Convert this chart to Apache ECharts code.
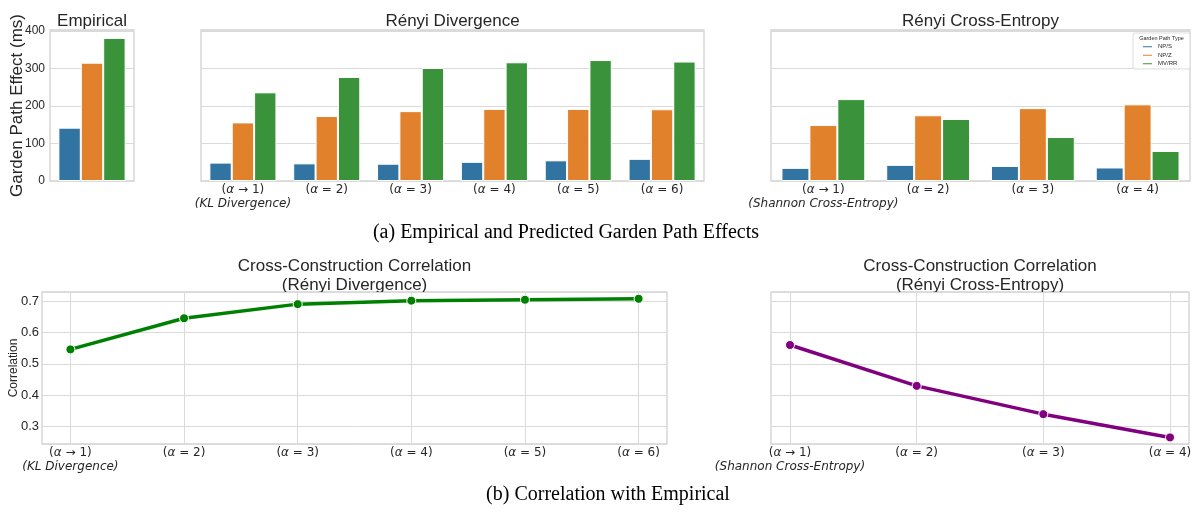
<!DOCTYPE html>
<html><head><meta charset="utf-8">
<script src="https://cdn.jsdelivr.net/npm/echarts@6/dist/echarts.min.js"></script>
<style>html,body{margin:0;padding:0;background:#fff}#c{width:1195px;height:516px}</style>
</head><body><div id="c"></div>
<script>
// ---- data ----
const seriesNames = ['NP/S', 'NP/Z', 'MV/RR'];
const empiricalValues = [142, 315, 381];
const divergenceCategories = ['(α → 1)', '(α = 2)', '(α = 3)', '(α = 4)', '(α = 5)', '(α = 6)'];
const divergenceNPS = [49, 47, 46, 51, 55, 59];
const divergenceNPZ = [156, 173, 186, 192, 192, 191];
const divergenceMVRR = [236, 277, 301, 316, 322, 318];
const crossEntropyCategories = ['(α → 1)', '(α = 2)', '(α = 3)', '(α = 4)'];
const crossEntropyNPS = [35, 43, 40, 36];
const crossEntropyNPZ = [149, 175, 194, 204];
const crossEntropyMVRR = [218, 165, 117, 80];
const divergenceCorrelation = [0.546, 0.645, 0.690, 0.701, 0.704, 0.707];
const crossEntropyCorrelation = [0.560, 0.430, 0.340, 0.266];
const firstLabelNotes = ['(KL Divergence)', '(Shannon Cross-Entropy)'];
const effectTicks = [0, 100, 200, 300, 400];
const correlationTicks = [0.3, 0.4, 0.5, 0.6, 0.7];

const barColors = ['#3274a1', '#e1812c', '#3a923a'];
const TXT = '#262626';
const SANS = '"Liberation Sans", Arial, sans-serif';
const MATH = '"DejaVu Sans", sans-serif';
const GRIDC = '#dadada';
const FRAMEC = '#d2d2d2';

const chart = echarts.init(document.getElementById('c'), null, {renderer: 'canvas'});

function mathLabel(note) {
  return function (v, i) {
    let s = v.replace('α', '{i|α}');
    if (i === 0) s += '\n{n|' + note + '}';
    return s;
  };
}
const mathRich = {
  i: {fontFamily: MATH, fontStyle: 'italic', fontSize: 12, color: TXT, lineHeight: 14},
  n: {fontFamily: MATH, fontStyle: 'italic', fontSize: 12, color: TXT, lineHeight: 14}
};
function catAxis(grid, data, note, opts) {
  return Object.assign({
    type: 'category', gridIndex: grid, data: data,
    axisLine: {show: false}, axisTick: {show: false},
    axisLabel: {fontFamily: MATH, fontSize: 12, color: TXT, lineHeight: 14, margin: 2,
      interval: 0, formatter: mathLabel(note), rich: mathRich},
    splitLine: {show: false}
  }, opts || {});
}
function effectAxis(grid, showLabels) {
  return {
    type: 'value', gridIndex: grid, min: 0, max: 402, interval: 100,
    axisLine: {show: false}, axisTick: {show: false},
    axisLabel: {show: showLabels, fontFamily: SANS, fontSize: 12, color: TXT, margin: 5,
      formatter: v => (effectTicks.indexOf(v) >= 0 ? String(v) : '')},
    splitLine: {show: true, lineStyle: {color: GRIDC, width: 1}}
  };
}
function corrAxis(grid, showLabels, hidden) {
  return {
    type: 'value', gridIndex: grid, min: 0.2451, max: 0.7286, show: !hidden,
    axisLine: {show: false}, axisTick: {show: false},
    axisLabel: {show: showLabels, fontFamily: SANS, fontSize: 13, color: TXT, margin: 3,
      formatter: v => {
        const hit = correlationTicks.find(t => Math.abs(t - v) < 1e-6);
        return hit !== undefined ? hit.toFixed(1) : '';
      }},
    splitLine: {show: true, lineStyle: {color: GRIDC, width: 1}}
  };
}
const frame = {show: true, borderColor: FRAMEC, borderWidth: 1.3, backgroundColor: 'transparent'};

function barSeries(name, xi, data, k) {
  return {
    type: 'bar', name: name, xAxisIndex: xi, yAxisIndex: xi, data: data,
    barGap: '0%', barCategoryGap: '20%',
    itemStyle: {color: barColors[k], borderColor: '#ffffff', borderWidth: 1},
    emphasis: {disabled: true}, animation: false
  };
}

const option = {
  animation: false,
  backgroundColor: '#ffffff',
  grid: [
    Object.assign({left: 50, top: 30, width: 84, height: 151}, frame),
    Object.assign({left: 201, top: 30, width: 503, height: 151}, frame),
    Object.assign({left: 771, top: 30, width: 419, height: 151}, frame),
    Object.assign({left: 42, top: 292, width: 625, height: 152}, frame),
    {left: 70.4, top: 292, width: 568.2, height: 152, show: false},
    Object.assign({left: 771, top: 292, width: 418, height: 152}, frame),
    {left: 790, top: 292, width: 380, height: 152, show: false}
  ],
  xAxis: [
    catAxis(0, [''], '', {axisLabel: {show: false}}),
    catAxis(1, divergenceCategories, firstLabelNotes[0]),
    catAxis(2, crossEntropyCategories, firstLabelNotes[1]),
    {type: 'value', gridIndex: 3, show: false, min: 0, max: 1},
    catAxis(4, divergenceCategories, firstLabelNotes[0],
      {boundaryGap: false, splitLine: {show: true, lineStyle: {color: GRIDC, width: 1}}}),
    {type: 'value', gridIndex: 5, show: false, min: 0, max: 1},
    catAxis(6, crossEntropyCategories, firstLabelNotes[1],
      {boundaryGap: false, splitLine: {show: true, lineStyle: {color: GRIDC, width: 1}}})
  ],
  yAxis: [
    effectAxis(0, true),
    effectAxis(1, false),
    effectAxis(2, false),
    corrAxis(3, true, false),
    corrAxis(4, false, true),
    corrAxis(5, false, false),
    corrAxis(6, false, true)
  ],
  legend: {
    data: seriesNames, orient: 'vertical', left: 1141, top: 43.4, z: 30, zlevel: 0,
    itemWidth: 11, itemHeight: 3, itemGap: 2, icon: 'rect', selectedMode: false,
    padding: 0,
    textStyle: {fontFamily: SANS, fontSize: 6, color: TXT, lineHeight: 6.5}
  },
  series: [
    barSeries(seriesNames[0], 0, [empiricalValues[0]], 0),
    barSeries(seriesNames[1], 0, [empiricalValues[1]], 1),
    barSeries(seriesNames[2], 0, [empiricalValues[2]], 2),
    barSeries(seriesNames[0], 1, divergenceNPS, 0),
    barSeries(seriesNames[1], 1, divergenceNPZ, 1),
    barSeries(seriesNames[2], 1, divergenceMVRR, 2),
    barSeries(seriesNames[0], 2, crossEntropyNPS, 0),
    barSeries(seriesNames[1], 2, crossEntropyNPZ, 1),
    barSeries(seriesNames[2], 2, crossEntropyMVRR, 2),
    {
      type: 'line', name: 'Rényi Divergence correlation', xAxisIndex: 4, yAxisIndex: 4,
      data: divergenceCorrelation, symbol: 'circle', symbolSize: 9,
      lineStyle: {color: '#008000', width: 3.5},
      itemStyle: {color: '#008000', borderColor: '#ffffff', borderWidth: 1},
      emphasis: {disabled: true}, z: 5
    },
    {
      type: 'line', name: 'Rényi Cross-Entropy correlation', xAxisIndex: 6, yAxisIndex: 6,
      data: crossEntropyCorrelation, symbol: 'circle', symbolSize: 9,
      lineStyle: {color: '#800080', width: 3.5},
      itemStyle: {color: '#800080', borderColor: '#ffffff', borderWidth: 1},
      emphasis: {disabled: true}, z: 5
    }
  ],
  graphic: [
    {type: 'text', x: 92, y: 21, style: {text: 'Empirical', font: '17px ' + SANS, fill: TXT, align: 'center', verticalAlign: 'middle'}},
    {type: 'text', x: 452.5, y: 21, style: {text: 'Rényi Divergence', font: '17px ' + SANS, fill: TXT, align: 'center', verticalAlign: 'middle'}},
    {type: 'text', x: 980.5, y: 21, style: {text: 'Rényi Cross-Entropy', font: '17px ' + SANS, fill: TXT, align: 'center', verticalAlign: 'middle'}},
    {type: 'text', x: 17, y: 105.5, rotation: Math.PI / 2, style: {text: 'Garden Path Effect (ms)', font: '17px ' + SANS, fill: TXT, align: 'center', verticalAlign: 'middle'}},
    {type: 'text', x: 14, y: 368, rotation: Math.PI / 2, style: {text: 'Correlation', font: '12px ' + SANS, fill: TXT, align: 'center', verticalAlign: 'middle'}},
    {type: 'text', x: 354.5, y: 266.5, style: {text: 'Cross-Construction Correlation', font: '17px ' + SANS, fill: TXT, align: 'center', verticalAlign: 'middle'}},
    {type: 'text', x: 354.5, y: 285.5, style: {text: '(Rényi Divergence)', font: '17px ' + SANS, fill: TXT, align: 'center', verticalAlign: 'middle'}},
    {type: 'text', x: 980, y: 266.5, style: {text: 'Cross-Construction Correlation', font: '17px ' + SANS, fill: TXT, align: 'center', verticalAlign: 'middle'}},
    {type: 'text', x: 980, y: 285.5, style: {text: '(Rényi Cross-Entropy)', font: '17px ' + SANS, fill: TXT, align: 'center', verticalAlign: 'middle'}},
    {type: 'text', x: 566, y: 233, style: {text: '(a) Empirical and Predicted Garden Path Effects', font: '20px "Liberation Serif", "Times New Roman", serif', fill: '#000', align: 'center', verticalAlign: 'middle'}},
    {type: 'text', x: 608, y: 494.5, style: {text: '(b) Correlation with Empirical', font: '20px "Liberation Serif", "Times New Roman", serif', fill: '#000', align: 'center', verticalAlign: 'middle'}},
    {type: 'rect', shape: {x: 1133, y: 33, width: 57, height: 36, r: 2}, style: {fill: 'rgba(255,255,255,0.85)', stroke: '#dddddd', lineWidth: 1}, z: 1},
    {type: 'text', x: 1161.5, y: 38.5, z: 31, style: {text: 'Garden Path Type', font: '5.5px ' + SANS, fill: TXT, align: 'center', verticalAlign: 'middle'}}
  ]
};
chart.setOption(option);
</script>
</body></html>
